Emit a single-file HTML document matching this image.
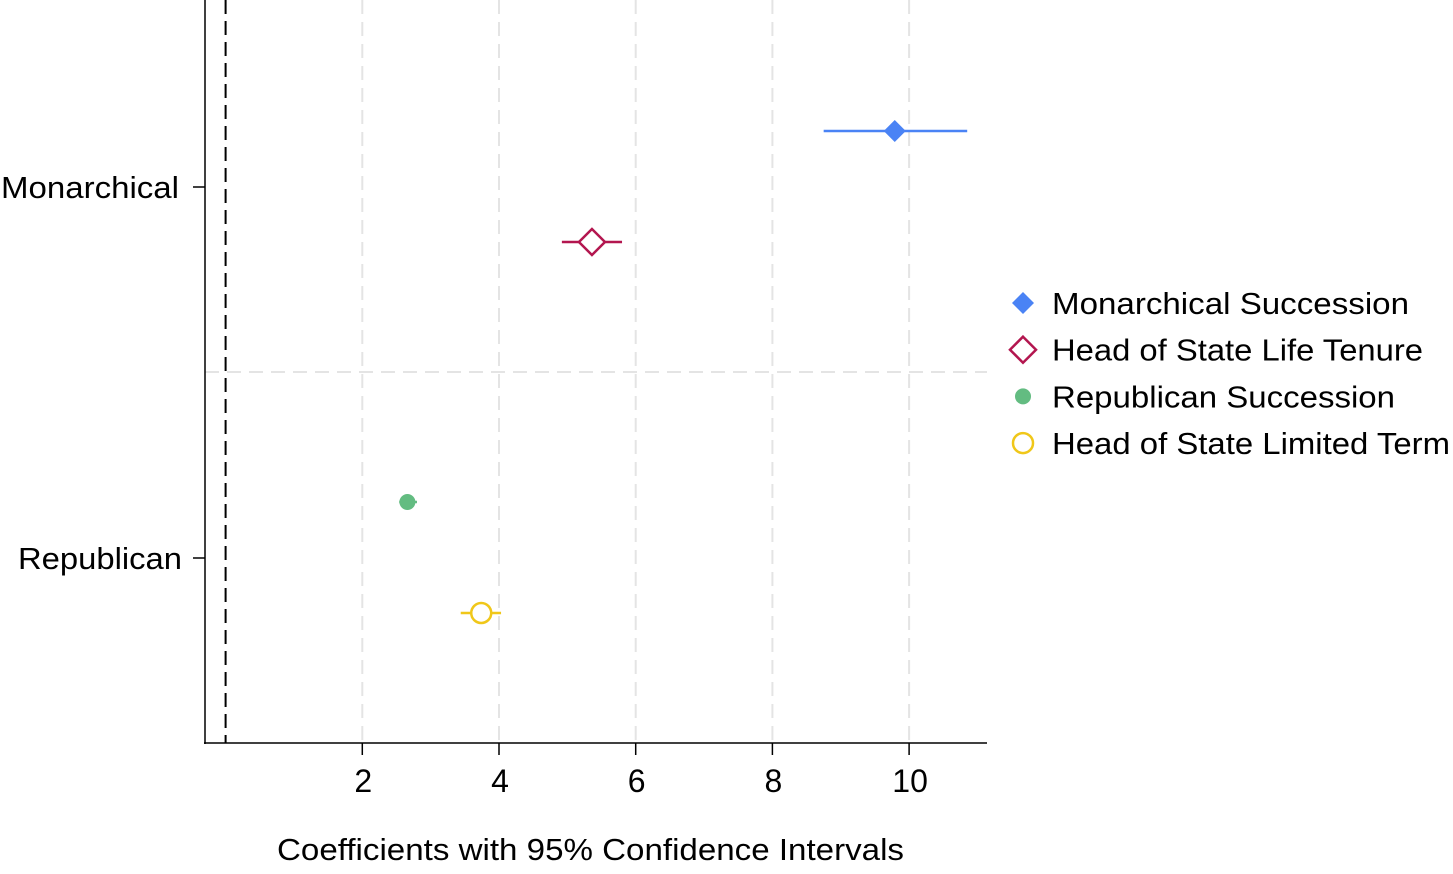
<!DOCTYPE html>
<html><head><meta charset="utf-8"><style>
body{margin:0;background:#fff;}
svg text{font-family:"Liberation Sans",Arial,sans-serif;fill:#000;}
</style></head><body>
<svg id="chart" width="1453" height="869" xmlns="http://www.w3.org/2000/svg">
<g id="grid"></g>
<g id="axes"></g>
<g id="marks"></g>
<g id="legend"></g>
<text x="277" y="860" font-size="31" textLength="627" lengthAdjust="spacingAndGlyphs">Coefficients with 95% Confidence Intervals</text>
</svg>
<script>
const groups = ["Monarchical", "Republican"];
const seriesNames = ["Monarchical Succession", "Head of State Life Tenure", "Republican Succession", "Head of State Limited Term"];
const seriesGroup = [0, 0, 1, 1];
const coef = [9.79, 5.36, 2.66, 3.74];
const ciLow = [8.75, 4.92, 2.54, 3.44];
const ciHigh = [10.85, 5.80, 2.80, 4.03];
const xTicks = [2, 4, 6, 8, 10];

const NS = "http://www.w3.org/2000/svg";
const X0 = 225.6, XS = 68.35;
const xs = v => X0 + v * XS;
const groupY = [187, 558];
const offsets = [-56, 55, -56, 55];
const colors = ["#4a83f5", "#b3164f", "#63bc81", "#f0c719"];
function mk(tag, attrs, parent){const e=document.createElementNS(NS,tag);for(const k in attrs)e.setAttribute(k,attrs[k]);parent.appendChild(e);return e;}
const grid=document.getElementById('grid'), axes=document.getElementById('axes'), marks=document.getElementById('marks'), legend=document.getElementById('legend');

xTicks.forEach((t,i)=>{
  const x=xs(t);
  const g=mk('line',{x1:x,x2:x,y1:0,y2:743,stroke:'#e4e4e4','stroke-width':2,'stroke-dasharray':'14 8'},grid);
  
  
  const tk=mk('line',{x1:x,x2:x,y1:743,y2:755,stroke:'#000','stroke-width':1.5},axes);
  
  
  const tl=mk('text',{x:x+1,y:792,'text-anchor':'middle','font-size':32},axes);
  tl.textContent=t;
  
  
});
const sep=mk('line',{x1:205,x2:987,y1:372,y2:372,stroke:'#e4e4e4','stroke-width':2,'stroke-dasharray':'14 8'},grid);


const zero=mk('line',{x1:xs(0),x2:xs(0),y1:0,y2:743,stroke:'#000','stroke-width':2,'stroke-dasharray':'14 7'},grid);


const ya=mk('line',{x1:205,x2:205,y1:0,y2:744,stroke:'#000','stroke-width':1.5},axes);


const xa=mk('line',{x1:204,x2:987,y1:743,y2:743,stroke:'#000','stroke-width':1.5},axes);


const yLabelX=[1,18], yLabelW=[178,164];
groups.forEach((gname,i)=>{
  const y=groupY[i];
  const tk=mk('line',{x1:193,x2:205,y1:y,y2:y,stroke:'#000','stroke-width':1.5},axes);
  
  
  const tl=mk('text',{x:yLabelX[i],y:y+11,'font-size':31,textLength:yLabelW[i],lengthAdjust:'spacingAndGlyphs'},axes);
  tl.textContent=gname;
  
  
});
function marker(i,cx,cy,parent){
  const c=colors[i];let m;
  if(i==0) m=mk('path',{d:`M${cx} ${cy-11}L${cx+11} ${cy}L${cx} ${cy+11}L${cx-11} ${cy}Z`,fill:c},parent);
  else if(i==1) m=mk('path',{d:`M${cx} ${cy-13}L${cx+13} ${cy}L${cx} ${cy+13}L${cx-13} ${cy}Z`,fill:'#fff',stroke:c,'stroke-width':2.5},parent);
  else if(i==2) m=mk('circle',{cx:cx,cy:cy,r:8,fill:c},parent);
  else m=mk('circle',{cx:cx,cy:cy,r:10,fill:'#fff',stroke:c,'stroke-width':2.5},parent);
  return m;
}
coef.forEach((v,i)=>{
  const y=groupY[seriesGroup[i]]+offsets[i];
  const l=mk('line',{x1:xs(ciLow[i]),x2:xs(ciHigh[i]),y1:y,y2:y,stroke:colors[i],'stroke-width':2.5},marks);
  
  
  const m=marker(i,xs(v),y,marks);
  
  
});
const legW=[357,371,343,398];
seriesNames.forEach((n,i)=>{
  const y=303+i*46.7;
  const m=marker(i,1023,y,legend);
  
  
  const t=mk('text',{x:1052,y:y+11,'font-size':31,textLength:legW[i],lengthAdjust:'spacingAndGlyphs'},legend);
  t.textContent=n;
  
  
});
</script>
</body></html>
